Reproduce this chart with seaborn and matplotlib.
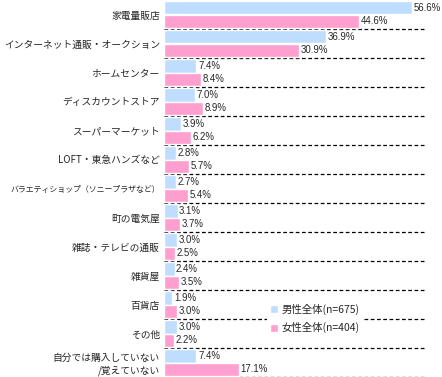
import pandas as pd
import matplotlib
matplotlib.use('Agg')
import matplotlib.pyplot as plt
import seaborn as sns

# 購入場所（男女別）
categories = [
    '家電量販店', 'インターネット通販・オークション', 'ホームセンター',
    'ディスカウントストア', 'スーパーマーケット', 'LOFT・東急ハンズなど',
    'バラエティショップ（ソニープラザなど）', '町の電気屋', '雑誌・テレビの通販',
    '雑貨屋', '百貨店', 'その他', '自分では購入していない\n/覚えていない'
]
male = [56.6, 36.9, 7.4, 7.0, 3.9, 2.8, 2.7, 3.1, 3.0, 2.4, 1.9, 3.0, 7.4]
female = [44.6, 30.9, 8.4, 8.9, 6.2, 5.7, 5.4, 3.7, 2.5, 3.5, 3.0, 2.2, 17.1]
series = ['男性全体(n=675)', '女性全体(n=404)']
colors = ['#BFDDFF', '#FF9FCF']

sns.set_style('white')
plt.rcParams['font.family'] = ['Noto Sans CJK JP', 'DejaVu Sans']

df = pd.DataFrame({
    '項目': categories * 2,
    '割合': male + female,
    '性別': [series[0]] * len(male) + [series[1]] * len(female),
})

fig = plt.figure(figsize=(4.42, 3.77), dpi=100)
ax = fig.add_axes([164 / 442, 0.0, (427 - 164) / 442, 1.0])

sns.barplot(data=df, x='割合', y='項目', hue='性別', order=categories,
            hue_order=series, palette=colors, width=0.9, gap=0,
            saturation=1, ax=ax, legend=True)

ax.set_xlim(0, 60)
ax.set_ylim(len(categories) - 0.5, -0.5)
for i in range(len(categories)):
    ax.axhline(i + 0.5, color='black', lw=0.9, ls=(0, (3, 2)), zorder=0)

# 数値ラベル
for cont in ax.containers:
    for bar in cont:
        w = bar.get_width()
        ax.text(w + 0.35, bar.get_y() + bar.get_height() / 2, f'{w:.1f}%',
                va='center', ha='left', fontsize=6.9,
                family=['Liberation Sans', 'DejaVu Sans'], clip_on=False)

ax.set_xlabel('')
ax.set_ylabel('')
ax.set_xticks([])
ax.tick_params(axis='y', length=0, pad=3, labelsize=7)
for lab in ax.get_yticklabels():
    if lab.get_text().startswith('バラエティ'):
        lab.set_fontsize(5.7)
for s in ax.spines.values():
    s.set_visible(False)

leg = ax.legend(loc='center left', bbox_to_anchor=(0.37, 0.155),
                frameon=True, fontsize=7.5, handlelength=0.8, handleheight=0.8,
                handletextpad=0.3, labelspacing=0.7, borderpad=0.3)
leg.get_frame().set_edgecolor('white')
leg.get_frame().set_facecolor('white')
leg.get_frame().set_alpha(1)
leg.get_frame().set_linewidth(0)

fig.savefig('out.png', dpi=100)
